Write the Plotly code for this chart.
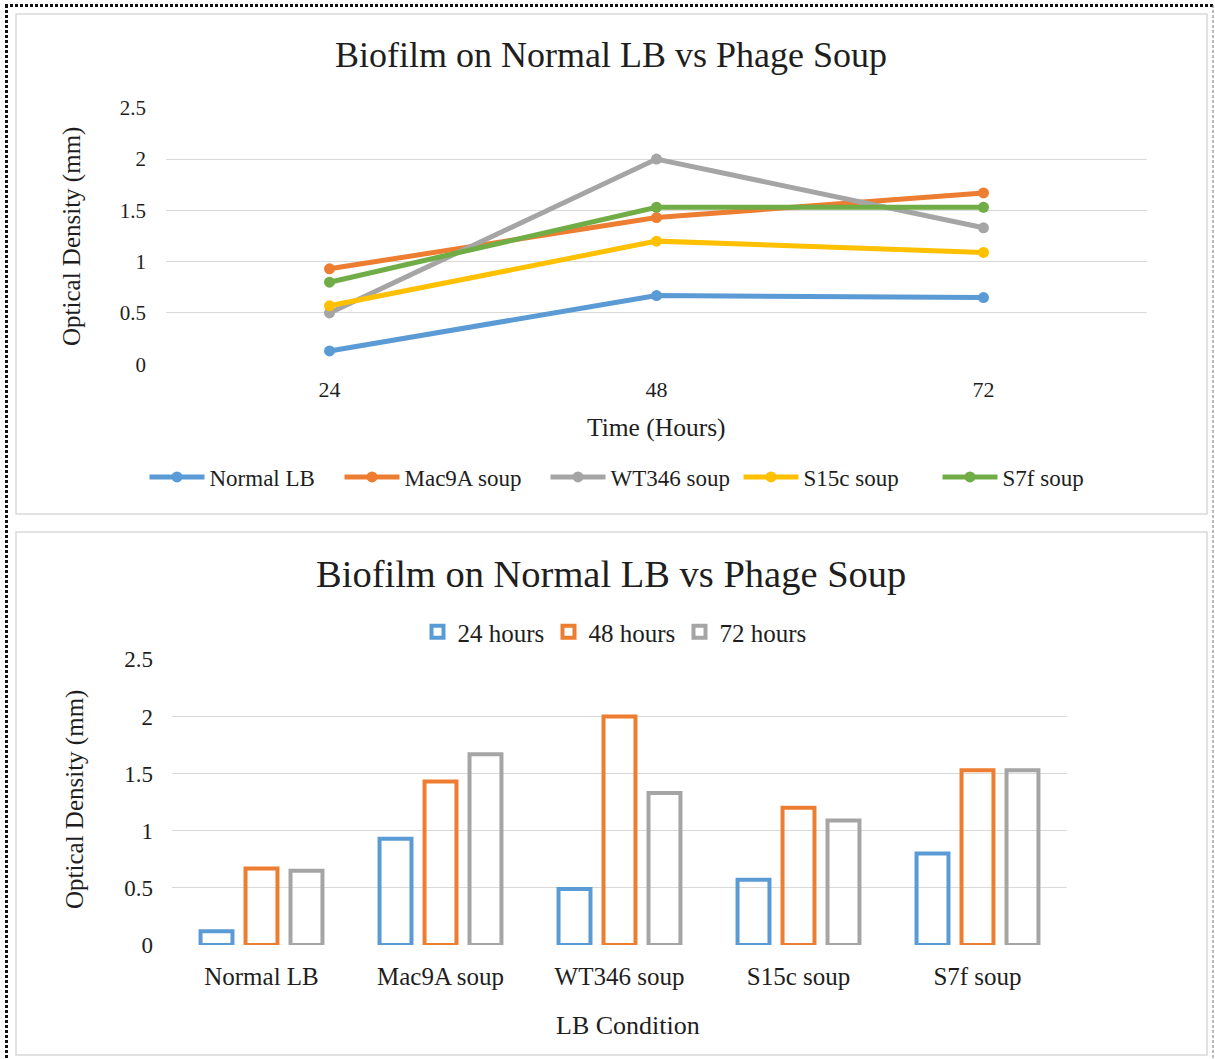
import plotly.graph_objects as go

# ---- data ----
hours = ["24", "48", "72"]
conditions = ["Normal LB", "Mac9A soup", "WT346 soup", "S15c soup", "S7f soup"]

normal_lb = [0.13, 0.67, 0.65]
mac9a = [0.93, 1.43, 1.67]
wt346 = [0.50, 2.00, 1.33]
s15c = [0.57, 1.20, 1.09]
s7f = [0.80, 1.53, 1.53]

hours_24 = [0.12, 0.93, 0.49, 0.57, 0.80]
hours_48 = [0.67, 1.43, 2.00, 1.20, 1.53]
hours_72 = [0.65, 1.67, 1.33, 1.09, 1.53]

y_ticks = [0, 0.5, 1, 1.5, 2, 2.5]
y_tick_text = ["0", "0.5", "1", "1.5", "2", "2.5"]

# ---- style ----
W, H = 1215, 1059
FONT = "Liberation Serif, Times New Roman, serif"
TXT = "#1e1e1e"
GRID = "#d9d9d9"
BLUE, ORANGE, GRAY, YELLOW, GREEN = "#5B9BD5", "#ED7D31", "#A5A5A5", "#FFC000", "#70AD47"


def px(x):
    return x / W


def py(y):
    return 1 - y / H


fig = go.Figure()

# line chart: OD over time for each medium
line_series = [
    ("Normal LB", normal_lb, BLUE, 125),
    ("Mac9A soup", mac9a, ORANGE, 136),
    ("WT346 soup", wt346, GRAY, 123),
    ("S15c soup", s15c, YELLOW, 129),
    ("S7f soup", s7f, GREEN, 90),
]
for name, vals, col, lw in line_series:
    fig.add_trace(go.Scatter(
        x=hours, y=vals, name=name, mode="lines+markers",
        line=dict(color=col, width=5),
        marker=dict(color=col, size=11),
        xaxis="x", yaxis="y", legend="legend", legendwidth=lw,
    ))

# grouped outline bars: OD per medium at each time point
bar_series = [
    ("24 hours", hours_24, BLUE),
    ("48 hours", hours_48, ORANGE),
    ("72 hours", hours_72, GRAY),
]
for name, vals, col in bar_series:
    fig.add_trace(go.Bar(
        x=conditions, y=vals, name=name,
        marker=dict(color="rgba(255,255,255,0)", line=dict(color=col, width=4)),
        xaxis="x2", yaxis="y2", legend="legend2", legendwidth=86,
    ))

axis_common = dict(
    showgrid=False, zeroline=False, showline=False, ticks="",
    tickfont=dict(family=FONT, color=TXT),
)
yaxis_common = dict(
    range=[0, 2.5], tickvals=y_ticks, ticktext=y_tick_text,
    showgrid=True, gridcolor=GRID, gridwidth=1, zeroline=False,
    showline=False, ticks="", tickfont=dict(family=FONT, color=TXT),
)

annotations = [
    dict(text="Biofilm on Normal LB vs Phage Soup", x=px(611), y=py(55),
         font=dict(size=36)),
    dict(text="Optical Density (mm)", x=px(72), y=py(237), textangle=-90,
         font=dict(size=25)),
    dict(text="Time (Hours)", x=px(656), y=py(427), font=dict(size=25.5)),
    dict(text="Biofilm on Normal LB vs Phage Soup", x=px(611), y=py(574),
         font=dict(size=38.5)),
    dict(text="Optical Density (mm)", x=px(75), y=py(800), textangle=-90,
         font=dict(size=25)),
    dict(text="LB Condition", x=px(628), y=py(1025), font=dict(size=26)),
]
for a in annotations:
    a.update(xref="paper", yref="paper", showarrow=False,
             xanchor="center", yanchor="middle")
    a["font"].update(family=FONT, color=TXT)

shapes = [
    # panel frames
    dict(type="rect", x0=px(16), x1=px(1207), y0=py(14), y1=py(514),
         line=dict(color=GRID, width=1.5)),
    dict(type="rect", x0=px(16), x1=px(1207), y0=py(532), y1=py(1055),
         line=dict(color=GRID, width=1.5)),
    # dotted page frame
    dict(type="line", x0=px(6.5), x1=px(6.5), y0=py(5), y1=py(1059),
         line=dict(color="#111111", width=3, dash="3px,2px")),
    dict(type="line", x0=px(5), x1=px(1213), y0=py(5.5), y1=py(5.5),
         line=dict(color="#111111", width=3, dash="3px,2px")),
    dict(type="line", x0=px(1213), x1=px(1213), y0=py(5), y1=py(1059),
         line=dict(color="#777777", width=1, dash="3px,2px")),
]
for s in shapes:
    s.update(xref="paper", yref="paper", layer="above")

fig.update_layout(
    width=W, height=H,
    margin=dict(l=0, r=0, t=0, b=0, autoexpand=False),
    paper_bgcolor="white", plot_bgcolor="white",
    font=dict(family=FONT, color=TXT),
    barmode="group", bargap=0.246, bargroupgap=0.29,
    xaxis=dict(axis_common, type="category", domain=[px(166), px(1147)],
               range=[-0.5, 2.5], anchor="y", tickfont=dict(size=22),
               ticklabelstandoff=10),
    yaxis=dict(yaxis_common, domain=[py(364.3), py(107.7)], anchor="x",
               tickfont=dict(size=21), ticklabelstandoff=19),
    xaxis2=dict(axis_common, type="category", domain=[px(172), px(1067)],
                range=[-0.5, 4.5], anchor="y2", tickfont=dict(size=25),
                ticklabelstandoff=14),
    yaxis2=dict(yaxis_common, domain=[py(945), py(659.3)], anchor="x2",
                tickfont=dict(size=23), ticklabelstandoff=18),
    legend=dict(orientation="h", x=px(621), y=py(477), xanchor="center",
                yanchor="middle", itemwidth=55,
                font=dict(family=FONT, size=23, color=TXT),
                bgcolor="rgba(0,0,0,0)", itemclick=False),
    legend2=dict(orientation="h", x=px(614), y=py(632), xanchor="center",
                 yanchor="middle", font=dict(family=FONT, size=25, color=TXT),
                 bgcolor="rgba(0,0,0,0)", itemclick=False),
    annotations=annotations,
    shapes=shapes,
    showlegend=True,
)

fig.write_html("out.html")
